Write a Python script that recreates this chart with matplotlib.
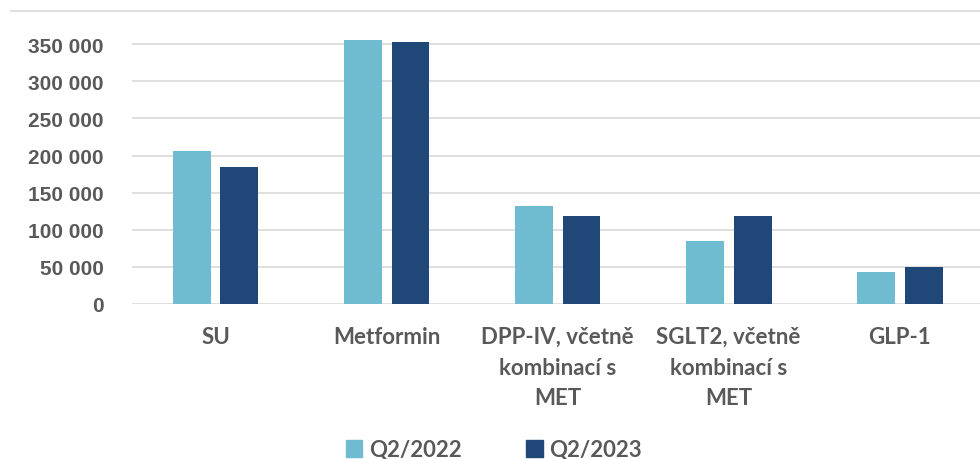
import matplotlib.pyplot as plt
import numpy as np
from matplotlib.ticker import FuncFormatter
from matplotlib.patches import Patch
from matplotlib.lines import Line2D

# Categories and values for both quarters
categories = ['SU', 'Metformin', 'DPP-IV, včetně\nkombinací s\nMET',
              'SGLT2, včetně\nkombinací s\nMET', 'GLP-1']
q2_2022 = [206000, 355000, 131500, 84500, 43500]
q2_2023 = [185000, 352500, 119000, 119000, 49500]
series_names = ['Q2/2022', 'Q2/2023']

light = '#6FBCD1'
dark = '#1F4778'
grey = '#595959'

fig = plt.figure(figsize=(9.8, 4.6), dpi=100)
ax = fig.add_axes([0.1344, 0.337, 0.8656, 0.581])

x = np.arange(len(categories))
width = 0.222
offset = 0.14
ax.bar(x - offset, q2_2022, width, color=light, zorder=3)
ax.bar(x + offset, q2_2023, width, color=dark, zorder=3)

ax.set_xlim(-0.49, 4.47)
ax.set_ylim(0, 360000)
ax.set_yticks(np.arange(0, 350001, 50000))
ax.yaxis.set_major_formatter(FuncFormatter(lambda v, p: f'{int(v):,}'.replace(',', ' ')))
ax.grid(axis='y', color='#D9D9D9', linewidth=1.2, zorder=0)

for s in ax.spines.values():
    s.set_visible(False)
ax.tick_params(axis='y', length=0, pad=20, labelsize=15, labelcolor=grey)
for lbl in ax.get_yticklabels():
    lbl.set_fontweight('bold')
    lbl.set_family('Liberation Sans')

ax.set_xticks(x)
ax.set_xticklabels(categories, fontsize=16, fontweight='bold', color=grey,
                   family='Lato', linespacing=1.55, va='top')
ax.tick_params(axis='x', length=0, pad=16)

# Chart frame line across the top
fig.add_artist(Line2D([11 / 980, 1.0], [1 - 11.7 / 460] * 2,
                      color='#D9D9D9', linewidth=1.2))

handles = [Patch(color=light), Patch(color=dark)]
fig.legend(handles, series_names, loc='center', bbox_to_anchor=(494 / 980, 1 - 450.7 / 460),
           ncol=2, frameon=False, handlelength=0.75, handleheight=0.75,
           handletextpad=0.3, columnspacing=2.9,
           prop={'family': 'Lato', 'weight': 'bold', 'size': 16})
for t in fig.legends[0].get_texts():
    t.set_color(grey)

fig.savefig('out.png', dpi=100)
